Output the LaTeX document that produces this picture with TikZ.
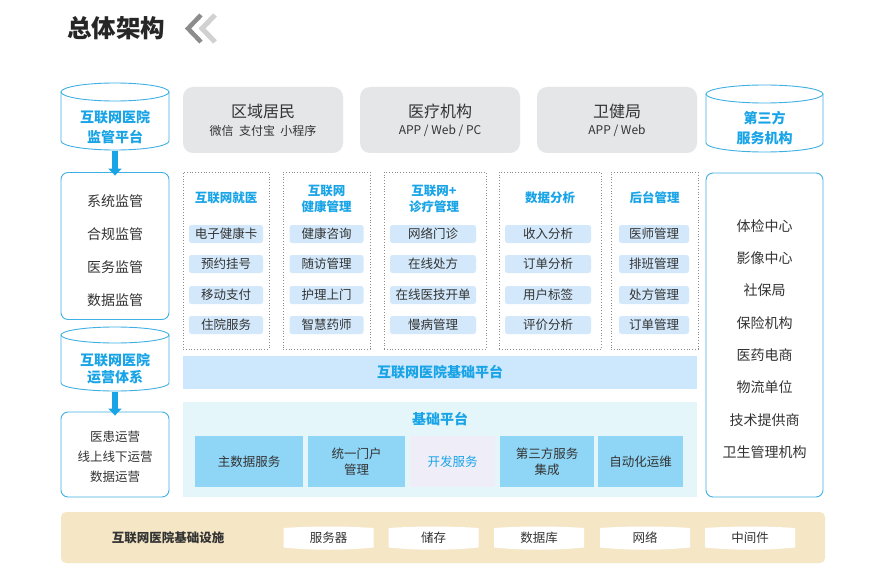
\documentclass[tikz,border=0pt]{standalone}
\usepackage{fontspec}
\setmainfont{Noto Sans CJK SC}
\usetikzlibrary{arrows.meta}
\definecolor{bl}{RGB}{24,164,230}
\definecolor{bord}{RGB}{64,176,228}
\definecolor{txt}{RGB}{51,51,51}
\definecolor{pillc}{RGB}{211,233,251}
\definecolor{barc}{RGB}{205,231,252}
\definecolor{basec}{RGB}{229,246,251}
\definecolor{svc}{RGB}{143,213,245}
\definecolor{devc}{RGB}{239,238,248}
\definecolor{grayc}{RGB}{229,230,232}
\definecolor{beige}{RGB}{245,230,198}
\newcommand\fsz[2]{\fontsize{#1}{#2}\selectfont}
\tikzset{
  txtnode/.style={inner sep=0pt, text=txt, align=center},
  pill/.style={fill=pillc, rounded corners=2.5pt, minimum width=#1, minimum height=18pt, inner sep=0pt, text=txt, font=\fsz{12.5}{15}},
  head/.style={inner sep=0pt, text=bl, align=center, font=\bfseries\fsz{12.5}{16}},
  colbox/.style={draw=black!45, dotted, line width=0.8pt, inner sep=0pt},
  sidebox/.style={draw=bord, line width=0.9pt, rounded corners=7pt, fill=white, inner sep=0pt},
  cylb/.style={draw=bord, line width=0.9pt},
  bigarrow/.style={draw=bl, line width=5.5pt, -{Triangle[width=13pt,length=7pt]}},
  graybox/.style={fill=grayc, rounded corners=10pt, inner sep=0pt},
  svcbox/.style={fill=svc, inner sep=0pt, text=txt, align=center, font=\fsz{12.5}{16}},
}
\begin{document}
\begin{tikzpicture}[x=1pt,y=-1pt]
\useasboundingbox[fill=white] (0,0) rectangle (888,588);

% title
\node[inner sep=0pt, text=black!85, font=\bfseries\fsz{24.5}{27}] (title) at (116,28) {总体架构};
\draw[black!18, line width=5pt] (215,15) -- (202,28.5) -- (215,42);
\draw[black!45, line width=4.5pt] (201,15) -- (188,28.5) -- (201,42);

% left cylinder 1
\draw[cylb, fill=white] (61,92) -- (61,141) arc[start angle=180, end angle=360, x radius=54pt, y radius=9pt] -- (169,92);
\draw[cylb] (115,92) ellipse[x radius=54pt, y radius=9pt];
\node[head, font=\bfseries\fsz{14}{20}] (cyl1) at (115,127) {互联网医院\\监管平台};
\coordinate (cyl1b) at (115,151);

% left box 1
\node[sidebox, minimum width=108pt, minimum height=147pt] (box1) at (115,246) {};
\foreach \t/\y [count=\i] in {系统监管/201, 合规监管/234, 医务监管/267, 数据监管/300}
  \node[txtnode, font=\fsz{14}{16}] (l1\i) at (115,\y) {\t};
\draw[bigarrow] (cyl1b) -- ([yshift=-3.5pt]box1.north);

% left cylinder 2
\draw[cylb, fill=white] (61,335) -- (61,383) arc[start angle=180, end angle=360, x radius=54pt, y radius=8pt] -- (169,335);
\draw[cylb] (115,335) ellipse[x radius=54pt, y radius=8pt];
\node[head, font=\bfseries\fsz{14}{17.5}] (cyl2) at (115,368.5) {互联网医院\\运营体系};
\coordinate (cyl2b) at (115,392);

% left box 2
\node[sidebox, minimum width=108pt, minimum height=85pt] (box2) at (115,454.5) {};
\foreach \t/\y [count=\i] in {医患运营/437, 线上线下运营/457, 数据运营/477}
  \node[txtnode, font=\fsz{12.5}{15}] (l2\i) at (115,\y) {\t};
\draw[bigarrow] (cyl2b) -- ([yshift=-4pt]box2.north);

% top gray boxes
\node[graybox, minimum width=160pt, minimum height=66pt] (g1) at (263,120) {};
\node[graybox, minimum width=160pt, minimum height=66pt] (g2) at (440,120) {};
\node[graybox, minimum width=160pt, minimum height=66pt] (g3) at (617,120) {};
\node[txtnode, font=\fsz{16}{18}] (g1t) at (263,111) {区域居民};
\node[txtnode, font=\fsz{12}{14}] (g1s) at (263,131) {微信\ \ 支付宝\ \ 小程序};
\node[txtnode, font=\fsz{16}{18}] (g2t) at (440,111) {医疗机构};
\node[txtnode, font=\fsz{12}{14}] (g2s) at (440,131) {APP / Web / PC};
\node[txtnode, font=\fsz{16}{18}] (g3t) at (617,111) {卫健局};
\node[txtnode, font=\fsz{12}{14}] (g3s) at (617,131) {APP / Web};

% right cylinder
\draw[cylb, fill=white] (706,94) -- (706,143) arc[start angle=180, end angle=360, x radius=58.5pt, y radius=9pt] -- (823,94);
\draw[cylb] (764.5,94) ellipse[x radius=58.5pt, y radius=9pt];
\node[head, font=\bfseries\fsz{14}{20}] (cyl3) at (764.5,128) {第三方\\服务机构};

% right box
\node[sidebox, minimum width=117pt, minimum height=324pt] (box3) at (764.5,335) {};
\foreach \t/\y [count=\i] in {体检中心/226, 影像中心/258, 社保局/290, 保险机构/323, 医药电商/355, 物流单位/387, 技术提供商/420, 卫生管理机构/452}
  \node[txtnode, font=\fsz{14}{16}] (r\i) at (764.5,\y) {\t};

% module columns
\node[colbox, minimum width=86pt, minimum height=177pt] (c1) at (226,260.5) {};
\node[colbox, minimum width=87pt, minimum height=177pt] (c2) at (326.5,260.5) {};
\node[colbox, minimum width=102pt, minimum height=177pt] (c3) at (435,260.5) {};
\node[colbox, minimum width=102pt, minimum height=177pt] (c4) at (550,260.5) {};
\node[colbox, minimum width=87pt, minimum height=177pt] (c5) at (654.5,260.5) {};

\node[head] (h1) at (226,198) {互联网就医};
\node[head] (h2) at (326.5,199) {互联网\\健康管理};
\node[head] (h3) at (434,199) {互联网+\\诊疗管理};
\node[head] (h4) at (550,198) {数据分析};
\node[head] (h5) at (654.5,198) {后台管理};

\foreach \t/\y [count=\i] in {电子健康卡/234, 预约挂号/264, 移动支付/295, 住院服务/325}
  \node[pill=74pt] (p1\i) at (226,\y) {\t};
\foreach \t/\y [count=\i] in {健康咨询/234, 随访管理/264, 护理上门/295, 智慧药师/325}
  \node[pill=74pt] (p2\i) at (326.5,\y) {\t};
\foreach \t/\y [count=\i] in {网络门诊/234, 在线处方/264, 在线医技开单/295, 慢病管理/325}
  \node[pill=86pt] (p3\i) at (433,\y) {\t};
\foreach \t/\y [count=\i] in {收入分析/234, 订单分析/264, 用户标签/295, 评价分析/325}
  \node[pill=86pt] (p4\i) at (548,\y) {\t};
\foreach \t/\y [count=\i] in {医师管理/234, 排班管理/264, 处方管理/295, 订单管理/325}
  \node[pill=70pt] (p5\i) at (654,\y) {\t};

% platform bar
\node[fill=barc, minimum width=514pt, minimum height=33pt, inner sep=0pt] (bar) at (440,372.5) {};
\node[head, font=\bfseries\fsz{14}{16}] (bart) at (440,372.5) {互联网医院基础平台};

% base platform
\node[fill=basec, minimum width=514pt, minimum height=95pt, inner sep=0pt] (base) at (440,449.5) {};
\node[head, font=\bfseries\fsz{14}{16}] (baset) at (440,419) {基础平台};
\node[svcbox, minimum width=108pt, minimum height=51pt] (s1) at (249,461.5) {主数据服务};
\node[svcbox, minimum width=97pt, minimum height=51pt] (s2) at (356.5,461.5) {统一门户\\管理};
\node[svcbox, fill=devc, text=bl, minimum width=85pt, minimum height=51pt] (s3) at (452.5,461.5) {开发服务};
\node[svcbox, minimum width=94pt, minimum height=51pt] (s4) at (547,461.5) {第三方服务\\集成};
\node[svcbox, minimum width=85pt, minimum height=51pt] (s5) at (640.5,461.5) {自动化运维};

% infrastructure bar
\node[fill=beige, rounded corners=5pt, minimum width=764pt, minimum height=51pt, inner sep=0pt] (infra) at (443,537.5) {};
\node[inner sep=0pt, text=txt, font=\bfseries\fsz{12.5}{15}] (infrat) at (168,538) {互联网医院基础设施};
\foreach \cx/\t [count=\i] in {328.5/服务器, 433.5/储存, 539/数据库, 645/网络, 750/中间件}{
  \fill[white] (\cx-45,528) .. controls (\cx-15,526) and (\cx+15,526) .. (\cx+45,528)
     -- (\cx+45,547.5) .. controls (\cx+15,550.5) and (\cx-15,550.5) .. (\cx-45,547.5) -- cycle;
  \node[txtnode, font=\fsz{12.5}{15}] (inf\i) at (\cx,538) {\t};
}
\end{tikzpicture}
\end{document}
